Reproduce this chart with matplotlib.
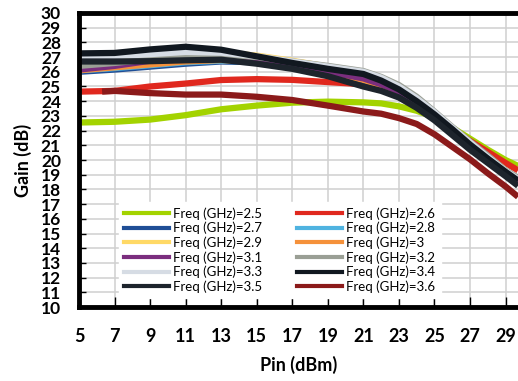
import numpy as np
import matplotlib
matplotlib.use("Agg")
import matplotlib.pyplot as plt

plt.rcParams['font.family'] = ['Lato', 'DejaVu Sans']

pin = [5, 7, 9, 11, 13, 15, 17, 19, 21, 22, 23, 24, 25, 26, 27, 28, 29, 29.7]
pin_36 = [6.3, 7, 9, 11, 13, 15, 17, 19, 21, 22, 23, 24, 25, 26, 27, 28, 29, 29.7]

freqs = ['2.5', '2.6', '2.7', '2.8', '2.9', '3', '3.1', '3.2', '3.3', '3.4', '3.5', '3.6']
colors = ['#a3d300', '#e0281e', '#1f4e96', '#4fb3e0', '#ffd966', '#f5913a',
          '#7b2e7e', '#9a9f95', '#d6dce4', '#111820', '#1d242c', '#8b1a1a']

gain_25 = [22.55, 22.6, 22.75, 23.05, 23.45, 23.7, 23.9, 23.97,
           23.92, 23.85, 23.65, 23.35, 22.9, 22.2, 21.45, 20.7, 20.0, 19.6]
gain_26 = [24.65, 24.7, 25.0, 25.2, 25.44, 25.5, 25.45, 25.3,
           25.15, 24.95, 24.4, 23.7, 23.0, 22.1, 21.3, 20.55, 19.8, 19.3]
gain_27 = [26.0, 26.15, 26.35, 26.55, 26.7, 26.65, 26.3, 25.85,
           25.35, 25.0, 24.5, 23.75, 22.9, 21.9, 20.9, 19.95, 19.0, 18.4]
gain_28 = [26.1, 26.25, 26.45, 26.65, 26.75, 26.7, 26.4, 26.0,
           25.5, 25.1, 24.6, 23.85, 23.0, 22.0, 21.0, 20.05, 19.1, 18.5]
gain_29 = [26.6, 26.8, 27.0, 27.2, 27.3, 27.1, 26.75, 26.35,
           25.95, 25.55, 25.0, 24.2, 23.2, 22.2, 21.2, 20.25, 19.3, 18.7]
gain_30 = [26.1, 26.3, 26.5, 26.7, 26.8, 26.7, 26.35, 25.95,
           25.45, 25.05, 24.55, 23.8, 22.95, 21.95, 21.0, 20.05, 19.1, 18.45]
gain_31 = [26.15, 26.4, 26.75, 27.0, 26.95, 26.8, 26.45, 26.0,
           25.55, 25.15, 24.65, 23.9, 23.0, 22.0, 21.0, 20.05, 19.1, 18.5]
gain_32 = [26.4, 26.6, 26.85, 27.1, 27.15, 27.0, 26.7, 26.4,
           26.05, 25.65, 25.1, 24.3, 23.3, 22.25, 21.25, 20.3, 19.3, 18.8]
gain_33 = [27.0, 27.05, 27.2, 27.35, 27.3, 27.05, 26.7, 26.35,
           26.0, 25.6, 25.0, 24.2, 23.25, 22.2, 21.2, 20.2, 19.25, 18.7]
gain_34 = [27.25, 27.28, 27.52, 27.7, 27.5, 27.05, 26.6, 26.2,
           25.85, 25.4, 24.8, 24.0, 23.1, 22.1, 21.05, 20.1, 19.2, 18.6]
gain_35 = [26.7, 26.7, 26.72, 26.78, 26.82, 26.55, 26.2, 25.7,
           25.0, 24.7, 24.25, 23.55, 22.7, 21.7, 20.7, 19.8, 18.9, 18.25]
gain_36 = [24.65, 24.7, 24.55, 24.45, 24.45, 24.3, 24.08, 23.7,
           23.3, 23.15, 22.85, 22.45, 21.75, 20.9, 20.05, 19.1, 18.2, 17.5]

gains = [gain_25, gain_26, gain_27, gain_28, gain_29, gain_30,
         gain_31, gain_32, gain_33, gain_34, gain_35, gain_36]

fig = plt.figure(figsize=(5.18, 3.81), dpi=100)
ax = fig.add_axes([0.1525, 0.194, 0.8475, 0.772])

lines = []
for f, c, g in zip(freqs, colors, gains):
    x = pin_36 if f == '3.6' else pin
    ln, = ax.plot(x, g, color=c, lw=4.5, solid_capstyle='butt',
                  solid_joinstyle='round', label=f'Freq (GHz)={f}')
    lines.append(ln)

ax.set_xlim(5, 29.7)
ax.set_ylim(10, 30)
ax.set_xticks(np.arange(5, 30, 2))
ax.set_yticks(np.arange(10, 31, 1))
ax.grid(True, color='#d0d0d0', lw=1.1)
ax.set_axisbelow(True)

for side in ['left', 'bottom', 'top']:
    ax.spines[side].set_linewidth(3.5)
    ax.spines[side].set_color('black')
ax.spines['right'].set_visible(False)

ax.tick_params(axis='x', direction='in', length=7, width=1, pad=15,
               labelsize=13)
ax.tick_params(axis='y', direction='in', length=5, width=1, pad=13,
               labelsize=12.5)
for lbl in ax.get_xticklabels() + ax.get_yticklabels():
    lbl.set_fontweight('bold')

ax.set_xlabel('Pin (dBm)', fontsize=13, fontweight='bold', labelpad=8)
ax.set_ylabel('Gain (dB)', fontsize=13, fontweight='bold', labelpad=6)

# legend filled column by column: 2.5..3.5 left, 2.6..3.6 right
order = [0, 2, 4, 6, 8, 10, 1, 3, 5, 7, 9, 11]
handles = [plt.Line2D([], [], color=colors[i], lw=3) for i in order]
labels = [lines[i].get_label() for i in order]
leg = ax.legend(handles, labels, ncol=2, loc='lower left',
                bbox_to_anchor=(0.075, 0.008), fontsize=9.5,
                frameon=True, fancybox=False, framealpha=1,
                edgecolor='white', handlelength=3.4, handletextpad=0.3,
                columnspacing=2.7, labelspacing=0.16, borderpad=0.4)

fig.savefig('out.png', dpi=100)
